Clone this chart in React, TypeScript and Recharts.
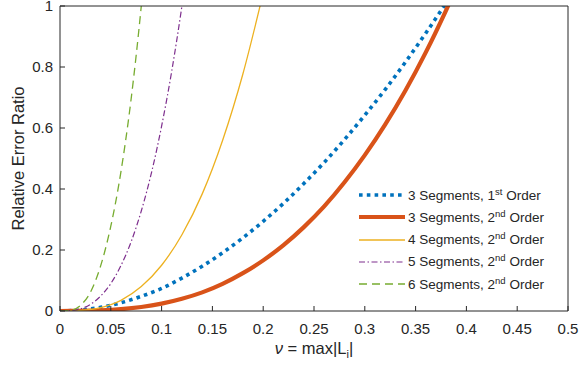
import React from 'react';
import { LineChart, Line, XAxis, YAxis } from 'recharts';

// ---- axis ticks ----
const xTicks = [0, 0.05, 0.1, 0.15, 0.2, 0.25, 0.3, 0.35, 0.4, 0.45, 0.5];
const yTicks = [0, 0.2, 0.4, 0.6, 0.8, 1];

// ---- series values ----
const seg3FirstX = [0, 0.02, 0.04, 0.06, 0.08, 0.1, 0.12, 0.14, 0.16, 0.18, 0.2, 0.22, 0.24, 0.26, 0.28, 0.3, 0.32, 0.34, 0.36, 0.38];
const seg3FirstY = [0, 0.003, 0.012, 0.027, 0.048, 0.074, 0.108, 0.147, 0.191, 0.24, 0.294, 0.353, 0.418, 0.487, 0.562, 0.642, 0.726, 0.816, 0.911, 1.01];

const seg3SecondX = [0, 0.02, 0.04, 0.06, 0.08, 0.1, 0.12, 0.14, 0.16, 0.18, 0.2, 0.22, 0.24, 0.26, 0.28, 0.3, 0.32, 0.34, 0.36, 0.38, 0.39];
const seg3SecondY = [0, 0.0003, 0.002, 0.006, 0.013, 0.024, 0.04, 0.061, 0.089, 0.124, 0.166, 0.216, 0.275, 0.343, 0.422, 0.511, 0.611, 0.723, 0.848, 0.986, 1.059];

const seg4SecondX = [0, 0.02, 0.04, 0.06, 0.08, 0.1, 0.12, 0.14, 0.16, 0.18, 0.2];
const seg4SecondY = [0, 0.002, 0.011, 0.035, 0.08, 0.15, 0.25, 0.384, 0.559, 0.777, 1.043];

const seg5SecondX = [0, 0.01, 0.02, 0.03, 0.04, 0.05, 0.06, 0.07, 0.08, 0.09, 0.1, 0.11, 0.12, 0.125];
const seg5SecondY = [0, 0.001, 0.007, 0.022, 0.049, 0.09, 0.149, 0.227, 0.328, 0.453, 0.606, 0.787, 1.0, 1.119];

const seg6SecondX = [0, 0.01, 0.02, 0.03, 0.04, 0.05, 0.06, 0.07, 0.08, 0.083];
const seg6SecondY = [0, 0.002, 0.018, 0.062, 0.148, 0.278, 0.457, 0.695, 1.0, 1.105];

// ---- legend text ----
const legendMain = ['3 Segments, 1', '3 Segments, 2', '4 Segments, 2', '5 Segments, 2', '6 Segments, 2'];
const legendSup = ['st', 'nd', 'nd', 'nd', 'nd'];
const legendTail = [' Order', ' Order', ' Order', ' Order', ' Order'];

const zip = (xs: number[], ys: number[]) => xs.map((x, i) => ({ x, y: ys[i] }));

const FONT = '"Liberation Sans", Arial, Helvetica, sans-serif';
const AX = '#262626';

const seriesStyles = [
  { color: '#0072BD', width: 3.6, dash: '3.6 4.2' },
  { color: '#D95319', width: 4.2, dash: undefined as string | undefined },
  { color: '#EDB120', width: 1.3, dash: undefined as string | undefined },
  { color: '#7E2F8E', width: 1.2, dash: '6 2.5 1.5 2.5' },
  { color: '#77AC30', width: 1.3, dash: '8 5' },
];

const seriesData = [
  zip(seg3FirstX, seg3FirstY),
  zip(seg3SecondX, seg3SecondY),
  zip(seg4SecondX, seg4SecondY),
  zip(seg5SecondX, seg5SecondY),
  zip(seg6SecondX, seg6SecondY),
];

const YLabel = (props: any) => {
  const vb = props && props.viewBox ? props.viewBox : { x: 0, y: 6, width: 60, height: 305 };
  const cx = vb.x + 17.5;
  const cy = vb.y + vb.height / 2;
  return (
    <text
      x={cx}
      y={cy}
      transform={`rotate(-90 ${cx} ${cy})`}
      textAnchor="middle"
      dominantBaseline="central"
      fill={AX}
      fontSize={16.5}
      fontFamily={FONT}
    >
      Relative Error Ratio
    </text>
  );
};

const XLabel = (props: any) => {
  const vb = props && props.viewBox ? props.viewBox : { x: 60, y: 311, width: 508, height: 55 };
  const cx = vb.x + vb.width / 2;
  const by = vb.y + 43;
  return (
    <text x={cx} y={by} textAnchor="middle" fill={AX} fontSize={16.5} fontFamily={FONT}>
      <tspan fontStyle="italic">ν</tspan>
      <tspan> = max|L</tspan>
      <tspan fontSize={11} dy={4}>i</tspan>
      <tspan dy={-4}>|</tspan>
    </text>
  );
};

export default function App() {
  return (
    <div style={{ position: 'absolute', left: 0, top: 0, width: 579, height: 366, background: '#fff' }}>
      <LineChart width={579} height={366} margin={{ top: 5, right: 10, bottom: 0, left: 0 }}>
        <XAxis
          xAxisId="b"
          dataKey="x"
          type="number"
          domain={[0, 0.5]}
          ticks={xTicks}
          interval={0}
          allowDataOverflow
          height={55}
          tickSize={-5}
          tickMargin={17}
          stroke={AX}
          tickLine={{ stroke: AX }}
          tick={{ fill: AX, fontSize: 15, fontFamily: FONT }}
          tickFormatter={(v: number) => String(v)}
          label={XLabel}
        />
        <XAxis
          xAxisId="t"
          orientation="top"
          dataKey="x"
          type="number"
          domain={[0, 0.5]}
          ticks={xTicks}
          interval={0}
          allowDataOverflow
          height={1}
          tickSize={-5}
          stroke={AX}
          tickLine={{ stroke: AX }}
          tick={false}
        />
        <YAxis
          yAxisId="l"
          type="number"
          domain={[0, 1]}
          ticks={yTicks}
          interval={0}
          allowDataOverflow
          width={60}
          tickSize={-5}
          tickMargin={12}
          stroke={AX}
          tick={{ fill: AX, fontSize: 15, fontFamily: FONT }}
          tickFormatter={(v: number) => String(v)}
          label={YLabel}
        />
        <YAxis
          yAxisId="r"
          orientation="right"
          type="number"
          domain={[0, 1]}
          ticks={yTicks}
          interval={0}
          allowDataOverflow
          width={1}
          tickSize={-5}
          stroke={AX}
          tickLine={{ stroke: AX }}
          tick={false}
        />
        <Line
          xAxisId="t"
          yAxisId="r"
          data={seriesData[0]}
          dataKey="y"
          stroke="none"
          dot={false}
          activeDot={false}
          legendType="none"
          isAnimationActive={false}
        />
        {seriesData.map((d, i) => (
          <Line
            key={i}
            xAxisId="b"
            yAxisId="l"
            data={d}
            dataKey="y"
            type="monotone"
            stroke={seriesStyles[i].color}
            strokeWidth={seriesStyles[i].width}
            strokeDasharray={seriesStyles[i].dash}
            strokeLinecap="butt"
            dot={false}
            activeDot={false}
            isAnimationActive={false}
          />
        ))}
      </LineChart>
      {legendMain.map((m, i) => (
        <div
          key={i}
          style={{
            position: 'absolute',
            left: 355,
            top: 195 + i * 22.3 - 11,
            height: 22,
            display: 'flex',
            alignItems: 'center',
            whiteSpace: 'nowrap',
            fontFamily: FONT,
            fontSize: 13.5,
            color: AX,
          }}
        >
          <svg width={50} height={22} style={{ display: 'block' }}>
            <line
              x1={4}
              x2={50}
              y1={11}
              y2={11}
              stroke={seriesStyles[i].color}
              strokeWidth={seriesStyles[i].width}
              strokeDasharray={seriesStyles[i].dash}
            />
          </svg>
          <span style={{ marginLeft: 3 }}>
            {m}
            <span style={{ fontSize: 9.5, position: 'relative', top: -5 }}>{legendSup[i]}</span>
            {legendTail[i]}
          </span>
        </div>
      ))}
    </div>
  );
}
